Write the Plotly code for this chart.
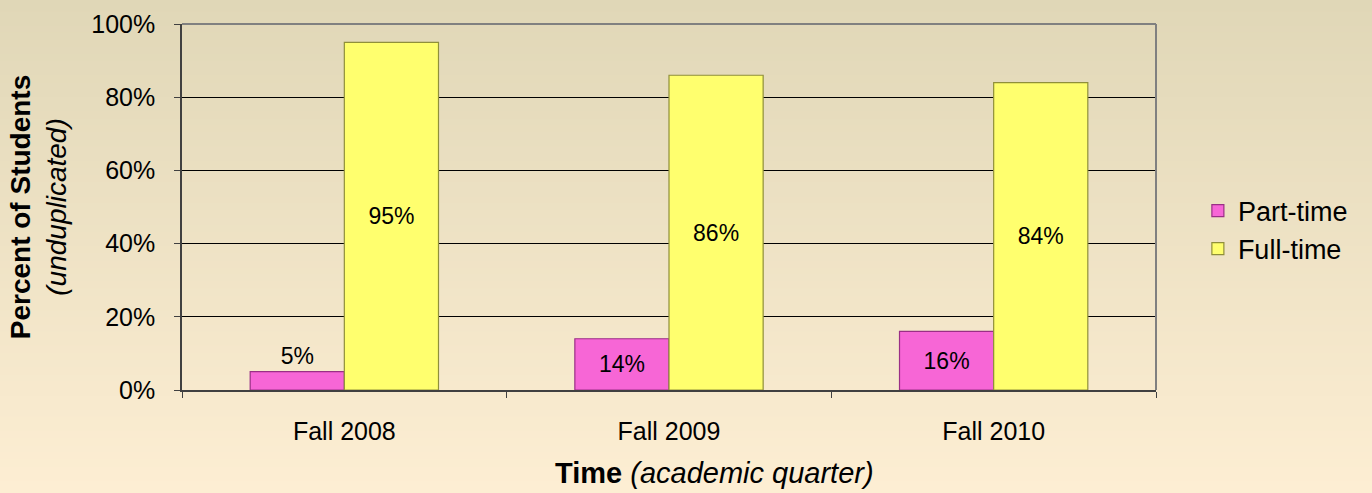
import plotly.graph_objects as go

categories = ["Fall 2008", "Fall 2009", "Fall 2010"]
part_time = [5, 14, 16]
full_time = [95, 86, 84]
series_names = ["Part-time", "Full-time"]
y_ticks = [0, 20, 40, 60, 80, 100]
x_title = "<b>Time</b> <i>(academic quarter)</i>"
y_title = "<b>Percent of Students</b><br><i>(unduplicated)</i>"

FONT = "Liberation Sans, Arial, sans-serif"

fig = go.Figure()
fig.add_trace(go.Bar(
    x=categories, y=part_time, name=series_names[0],
    marker=dict(color="#f766d6", line=dict(color="#9a2f86", width=1.2)),
    text=[f"{v}%" for v in part_time],
    textposition=["outside", "inside", "inside"],
    insidetextanchor="middle",
    textfont=dict(size=23, color="black", family=FONT),
    outsidetextfont=dict(size=23, color="black", family=FONT),
    insidetextfont=dict(size=23, color="black", family=FONT),
    cliponaxis=False,
))
fig.add_trace(go.Bar(
    x=categories, y=full_time, name=series_names[1],
    marker=dict(color="#ffff6e", line=dict(color="#8f8f3a", width=1.2)),
    text=[f"{v}%" for v in full_time],
    textposition="inside",
    insidetextanchor="middle",
    textfont=dict(size=23, color="black", family=FONT),
    insidetextfont=dict(size=23, color="black", family=FONT),
))

# gradient background via paper-coordinate bands
shapes = []
n = 70
top = (224, 215, 183)
bot = (253, 238, 211)
y_top, y_bot = 1.07, -0.29
for i in range(n):
    t = i / (n - 1)
    c = tuple(int(round(top[k] + (bot[k] - top[k]) * t)) for k in range(3))
    y1 = y_top - i * (y_top - y_bot) / n
    y0 = y_top - (i + 1) * (y_top - y_bot) / n
    if i == 0:
        y1 = 1.2
    if i == n - 1:
        y0 = -0.4
    shapes.append(dict(type="rect", xref="paper", yref="paper",
                       x0=-0.3, x1=1.3, y0=y0, y1=y1 + 0.003,
                       fillcolor=f"rgb{c}", line=dict(width=0), layer="below"))
# top and right border of plot area
shapes.append(dict(type="line", xref="paper", yref="paper", x0=0, x1=1, y0=1, y1=1,
                   line=dict(color="#808080", width=2)))
shapes.append(dict(type="line", xref="paper", yref="paper", x0=1, x1=1, y0=0, y1=1,
                   line=dict(color="#808080", width=2)))

fig.update_layout(
    width=1372, height=493,
    margin=dict(l=182, r=216, t=24, b=103, autoexpand=False),
    paper_bgcolor="#f3e8c8",
    plot_bgcolor="#c0c0c0",
    barmode="group", bargap=0.42, bargroupgap=0,
    font=dict(family=FONT, color="black", size=24),
    shapes=shapes,
    showlegend=True,
    legend=dict(x=1.043, y=0.437, xanchor="left", yanchor="middle",
                font=dict(size=27), bgcolor="rgba(0,0,0,0)", itemwidth=30,
                tracegroupgap=0),
    annotations=[dict(text=x_title, xref="paper", yref="paper", x=0.547, y=-0.227,
                      xanchor="center", yanchor="middle", showarrow=False,
                      font=dict(size=29, family=FONT, color="black"))],
)
fig.update_yaxes(
    range=[0, 100], tickvals=y_ticks, ticktext=[f"{v}%" for v in y_ticks],
    showgrid=True, gridcolor="black", gridwidth=1,
    showline=True, linecolor="#404040", linewidth=1.5,
    ticks="outside", ticklen=6, tickcolor="#404040",
    tickfont=dict(size=25), zeroline=False, ticklabelstandoff=14,
    title=dict(text=y_title, font=dict(size=28), standoff=16),
)
fig.update_xaxes(
    showline=True, linecolor="#404040", linewidth=1.5,
    ticks="outside", tickson="boundaries", ticklen=6, tickcolor="#404040",
    tickfont=dict(size=25), ticklabelstandoff=18,
)

fig.write_html("out.html", config={"displayModeBar": False},
               post_script="document.body.style.margin='0';")
